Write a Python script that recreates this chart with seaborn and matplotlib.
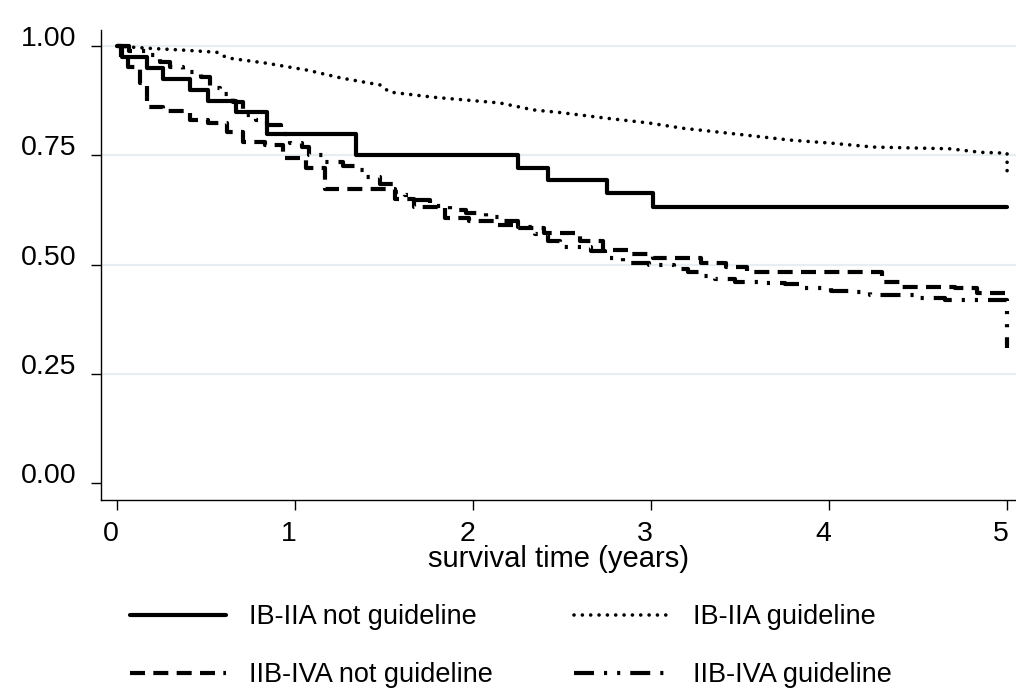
import numpy as np
import pandas as pd
import matplotlib
matplotlib.use("Agg")
import matplotlib.pyplot as plt
import matplotlib.transforms as mtrans
import seaborn as sns

# Kaplan-Meier estimates (time in years, survival)
t_ib_not = [0, 0.03, 0.17, 0.26, 0.41, 0.51, 0.67, 0.84, 1.34, 2.25, 2.42, 2.75, 3.01, 5.0]
s_ib_not = [1.0, 0.975, 0.95, 0.925, 0.90, 0.875, 0.85, 0.80, 0.75, 0.722, 0.694, 0.663, 0.632, 0.632]

t_ib_gl = [0, 0.185, 0.37, 0.56, 0.62, 0.84, 1.07, 1.26, 1.48, 1.53, 1.78, 2.15, 2.34, 2.49,
           2.75, 2.99, 3.18, 3.43, 3.78, 4.01, 4.25, 4.68, 4.85, 5.0, 5.0]
s_ib_gl = [1.0, 0.995, 0.991, 0.986, 0.973, 0.961, 0.945, 0.927, 0.911, 0.895, 0.883, 0.870,
           0.854, 0.848, 0.835, 0.824, 0.812, 0.801, 0.785, 0.778, 0.769, 0.765, 0.757, 0.755, 0.70]

t_iib_not = [0, 0.02, 0.06, 0.13, 0.17, 0.26, 0.41, 0.51, 0.62, 0.71, 0.83, 0.93, 1.06, 1.17,
             1.56, 1.67, 1.84, 1.98, 2.13, 2.25, 2.40, 2.60, 2.73, 2.88, 3.01, 3.28, 3.42,
             3.54, 4.30, 4.40, 4.71, 4.83, 5.0]
s_iib_not = [1.0, 0.975, 0.952, 0.915, 0.860, 0.851, 0.831, 0.824, 0.803, 0.780, 0.773, 0.744,
             0.72, 0.673, 0.650, 0.632, 0.606, 0.60, 0.59, 0.583, 0.572, 0.554, 0.533, 0.524,
             0.515, 0.503, 0.494, 0.483, 0.46, 0.449, 0.446, 0.435, 0.435]

t_iib_gl = [0, 0.07, 0.17, 0.24, 0.30, 0.37, 0.47, 0.52, 0.58, 0.65, 0.71, 0.78, 0.84, 0.92,
            0.97, 1.04, 1.08, 1.17, 1.27, 1.34, 1.39, 1.48, 1.55, 1.62, 1.67, 1.76, 1.87,
            1.96, 2.07, 2.15, 2.25, 2.35, 2.42, 2.49, 2.66, 2.74, 2.84, 2.99, 3.13, 3.21,
            3.28, 3.36, 3.47, 3.61, 3.75, 3.84, 4.01, 4.12, 4.23, 4.50, 4.65, 5.0]
s_iib_gl = [1.0, 0.99, 0.979, 0.963, 0.952, 0.94, 0.929, 0.904, 0.89, 0.872, 0.842, 0.83,
            0.819, 0.80, 0.778, 0.769, 0.75, 0.735, 0.725, 0.716, 0.70, 0.685, 0.666, 0.659,
            0.648, 0.634, 0.625, 0.618, 0.61, 0.60, 0.585, 0.57, 0.555, 0.54, 0.53, 0.515,
            0.503, 0.498, 0.49, 0.483, 0.474, 0.468, 0.46, 0.458, 0.455, 0.446, 0.44, 0.437,
            0.43, 0.423, 0.419, 0.31]

labels = ['IB-IIA not guideline', 'IB-IIA guideline',
          'IIB-IVA not guideline', 'IIB-IVA guideline']
xticks = [0, 1, 2, 3, 4, 5]
yticks = [0.0, 0.25, 0.5, 0.75, 1.0]

sns.set_theme(style="ticks")
plt.rcParams['font.family'] = ['Liberation Sans', 'DejaVu Sans']
plt.rcParams['text.color'] = 'black'
plt.rcParams['axes.labelcolor'] = 'black'
plt.rcParams['xtick.color'] = 'black'
plt.rcParams['ytick.color'] = 'black'

fig = plt.figure(figsize=(10.16, 6.90), dpi=100)
ax = fig.add_axes([101/1016, 1-500/690, 915/1016, 470/690])

curves = [
    (t_ib_not, s_ib_not, dict(linestyle='-', lw=3.0, drawstyle='steps-post')),
    (t_ib_gl, s_ib_gl, dict(linestyle=(0, (0.01, 2.3)), lw=2.6, dash_capstyle='round')),
    (t_iib_not, s_iib_not, dict(linestyle=(0, (3.6, 2.0)), lw=3.0, drawstyle='steps-post')),
    (t_iib_gl, s_iib_gl, dict(linestyle=(0, (4.8, 2.4, 0.75, 2.4, 0.75, 2.4)), lw=3.0,
                              drawstyle='steps-post')),
]
handles = []
for (t, s, kw), lab in zip(curves, labels):
    df = pd.DataFrame({'t': t, 's': s})
    sns.lineplot(data=df, x='t', y='s', ax=ax, color='black', estimator=None,
                 sort=False, zorder=3, **kw)
    handles.append(ax.get_lines()[-1])

ax.set_xlim(-0.09, 5.05)
ax.set_ylim(-0.039, 1.037)
ax.set_xticks(xticks)
ax.set_yticks(yticks)
ax.set_xticklabels([str(v) for v in xticks])
ax.set_yticklabels([f'{v:.2f}' for v in yticks])
ax.tick_params(axis='both', labelsize=20.5, length=7, width=1.0, color='black',
               labelcolor='black')
ax.tick_params(axis='y', pad=11)
ax.tick_params(axis='x', pad=8)
ax.set_xlabel('survival time (years)', fontsize=21, labelpad=-1, color='black')
ax.set_ylabel('')

# Stata-like light horizontal grid
ax.set_axisbelow(True)
ax.yaxis.grid(True, color='#E6EEF1', lw=1.6)
ax.xaxis.grid(False)
ax.yaxis.get_gridlines()[0].set_visible(False)

for side in ['top', 'right']:
    ax.spines[side].set_visible(False)
for side in ['left', 'bottom']:
    ax.spines[side].set_color('black')
    ax.spines[side].set_linewidth(1.0)

# tick labels sit slightly off their ticks in the reference
for lab in ax.get_yticklabels():
    lab.set_transform(lab.get_transform() + mtrans.ScaledTranslation(0, 10/100, fig.dpi_scale_trans))
for lab in ax.get_xticklabels():
    lab.set_transform(lab.get_transform() + mtrans.ScaledTranslation(-6/100, 0, fig.dpi_scale_trans))

order = [0, 2, 1, 3]
leg = fig.legend([handles[i] for i in order], [labels[i] for i in order],
                 loc='upper left', bbox_to_anchor=(130/1016, 1-604/690), ncol=2,
                 frameon=False, fontsize=19.5, handlelength=3.55, handletextpad=0.85,
                 columnspacing=3.0, labelspacing=1.2, borderpad=0, borderaxespad=0)
for txt in leg.get_texts():
    txt.set_color('black')

fig.savefig('out.png', dpi=100)
